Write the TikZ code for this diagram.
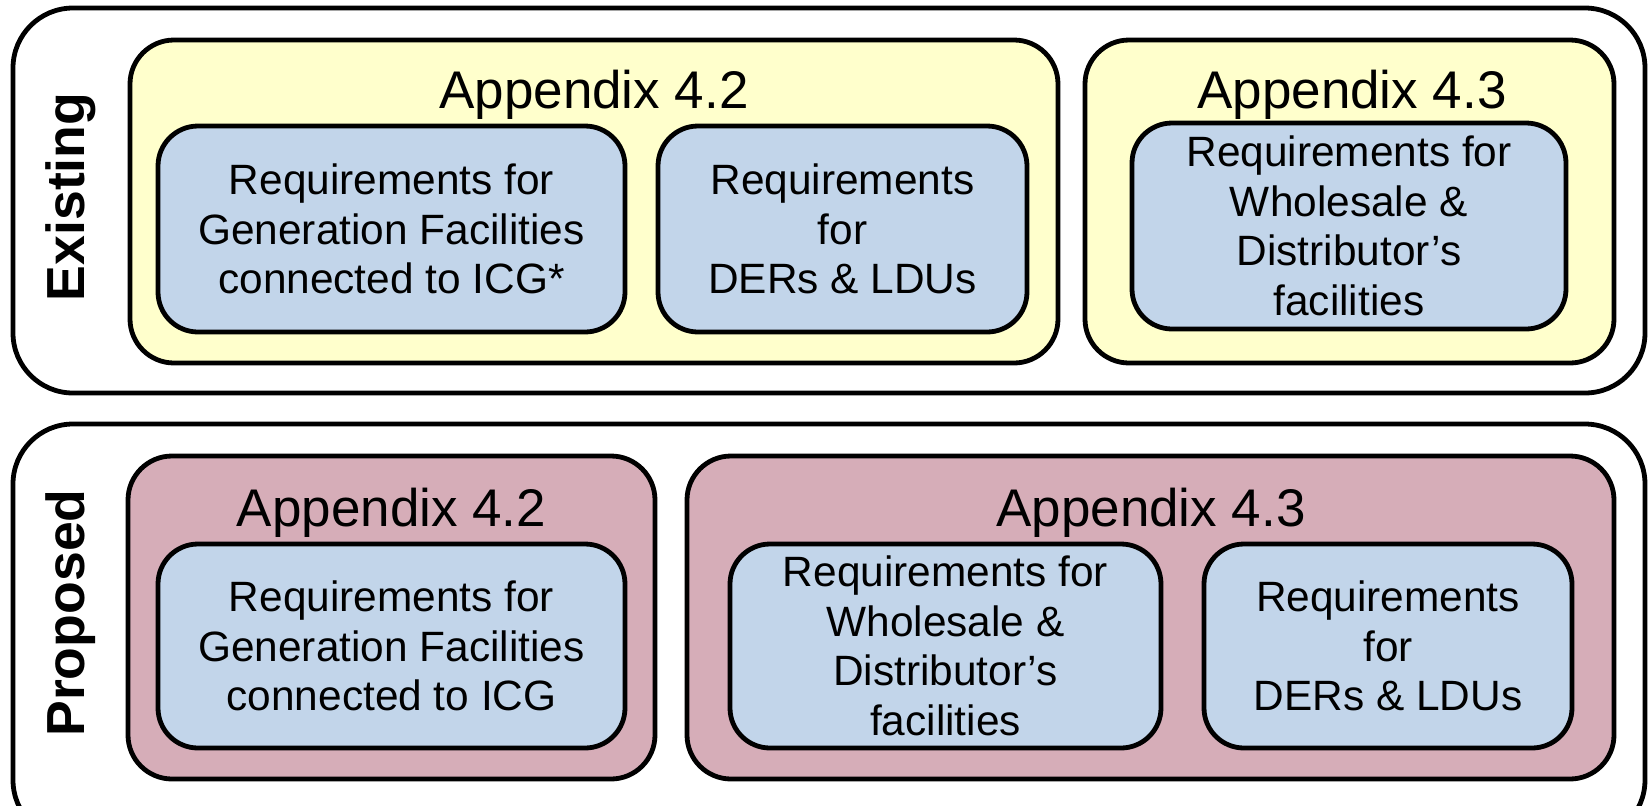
\documentclass[tikz,border=0pt]{standalone}
\usepackage{fontspec}
\setmainfont{Liberation Sans}

\definecolor{appyellow}{HTML}{FFFFCC}
\definecolor{apppink}{HTML}{D6ADB8}
\definecolor{reqblue}{HTML}{C2D5EA}

\tikzset{
  panel/.style={draw=black, line width=2.4pt, rounded corners=30pt, fill=white, inner sep=0pt},
  appx/.style={draw=black, line width=2.4pt, rounded corners=22pt, inner sep=0pt},
  req/.style={draw=black, line width=2.4pt, rounded corners=20pt, fill=reqblue,
    align=center, inner sep=0pt, font=\fontsize{21.2}{24.75}\selectfont},
  apptitle/.style={anchor=base, inner sep=0pt, font=\fontsize{26.5}{30}\selectfont},
  sidelabel/.style={rotate=90, inner sep=0pt, font=\fontsize{26.8}{30}\selectfont\bfseries},
}

\begin{document}
\begin{tikzpicture}[x=0.5pt, y=-0.5pt]
\useasboundingbox (0,0) rectangle (1651,805);
\clip (0,0) rectangle (1651,805);

% outer panels
\node[panel, minimum width=816pt, minimum height=192.5pt] (existing) at (829,200.5) {};
\node[panel, minimum width=816pt, minimum height=208pt] (proposed) at (829,632) {};

% existing appendices
\node[appx, fill=appyellow, minimum width=464pt, minimum height=161.5pt] (exA) at (594,201.5) {};
\node[appx, fill=appyellow, minimum width=264.5pt, minimum height=161.5pt] (exB) at (1349.5,201.5) {};
\node[apptitle] (exAt) at (594,108) {Appendix 4.2};
\node[apptitle] (exBt) at (1352,108) {Appendix 4.3};

\node[req, minimum width=233.5pt, minimum height=103pt] (exA1) at (391.5,229)
  {Requirements for\\Generation Facilities\\connected to ICG*};
\node[req, minimum width=184.5pt, minimum height=103pt] (exA2) at (842.5,229)
  {Requirements\\for\\DERs \& LDUs};
\node[req, minimum width=217pt, minimum height=103pt] (exB1) at (1349,226)
  {Requirements for\\Wholesale \&\\Distributor’s\\facilities};

% proposed appendices
\node[appx, fill=apppink, minimum width=263.5pt, minimum height=161.5pt] (prA) at (391.5,617.5) {};
\node[appx, fill=apppink, minimum width=463.5pt, minimum height=161.5pt] (prB) at (1150.5,617.5) {};
\node[apptitle] (prAt) at (391.5,526) {Appendix 4.2};
\node[apptitle] (prBt) at (1151,526) {Appendix 4.3};

\node[req, minimum width=233.5pt, minimum height=102pt] (prA1) at (391.5,646)
  {Requirements for\\Generation Facilities\\connected to ICG};
\node[req, minimum width=215.5pt, minimum height=102pt] (prB1) at (945.5,646)
  {Requirements for\\Wholesale \&\\Distributor’s\\facilities};
\node[req, minimum width=184pt, minimum height=102pt] (prB2) at (1388,646)
  {Requirements\\for\\DERs \& LDUs};

% side labels
\node[sidelabel] (exlab) at (71,197) {Existing};
\node[sidelabel] (prlab) at (71,613) {Proposed};
\end{tikzpicture}
\end{document}
